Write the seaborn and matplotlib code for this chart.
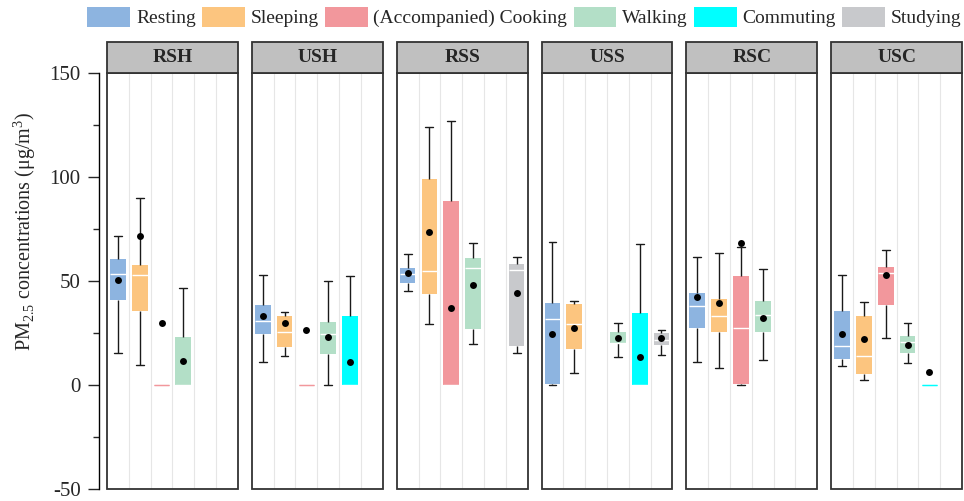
# boxplots of PM2.5 by activity for each household type

import numpy as np
import pandas as pd
import seaborn as sns
import matplotlib.pyplot as plt
from matplotlib.patches import Patch, Rectangle

sites = ['RSH', 'USH', 'RSS', 'USS', 'RSC', 'USC']
activities = ['Resting', 'Sleeping', '(Accompanied) Cooking', 'Walking', 'Commuting', 'Studying']
colors = ['#8db4e0', '#fcc57f', '#f2979c', '#b3dfc7', '#00ffff', '#c8c9cc']

# box statistics: whisker low, Q1, median, Q3, whisker high, mean
box_site = ['RSH'] * 4 + ['USH'] * 5 + ['RSS'] * 5 + ['USS'] * 5 + ['RSC'] * 4 + ['USC'] * 5
box_act = ['Resting', 'Sleeping', '(Accompanied) Cooking', 'Walking',
           'Resting', 'Sleeping', '(Accompanied) Cooking', 'Walking', 'Commuting',
           'Resting', 'Sleeping', '(Accompanied) Cooking', 'Walking', 'Studying',
           'Resting', 'Sleeping', 'Walking', 'Commuting', 'Studying',
           'Resting', 'Sleeping', '(Accompanied) Cooking', 'Walking',
           'Resting', 'Sleeping', '(Accompanied) Cooking', 'Walking', 'Commuting']
whisk_lo = [15.5, 9.7, 0, 0,
            11.3, 14.1, 0, 0, 0,
            45.3, 29.2, 0, 19.7, 15.5,
            0, 5.7, 13.6, 0, 14.4,
            11.1, 8.4, 0, 12.2,
            9.0, 2.5, 22.7, 10.5, 0]
q1 = [40.9, 35.4, 0, 0,
      24.3, 18.2, 0, 15.1, 0,
      49.0, 43.8, 0, 27.0, 19.0,
      0.3, 17.1, 20.0, 0, 19.2,
      27.3, 25.7, 0.3, 25.4,
      12.4, 5.4, 38.5, 15.5, 0]
median = [53.6, 52.8, 0, 0,
          30.6, 25.7, 0, 24.7, 0,
          53.6, 54.9, 0, 56.3, 55.3,
          31.6, 29.3, 20.3, 0, 21.6,
          37.9, 33.0, 27.3, 33.5,
          18.9, 14.0, 54.1, 20.5, 0]
q3 = [60.4, 57.9, 0, 23.0,
      38.7, 33.3, 0, 30.1, 33.0,
      56.4, 98.9, 88.6, 61.2, 58.0,
      39.6, 39.0, 25.5, 34.7, 25.1,
      44.1, 41.4, 52.2, 40.6,
      35.4, 33.0, 56.6, 23.5, 0]
whisk_hi = [71.8, 89.9, 0, 46.6,
            53.1, 35.0, 0, 50.1, 52.3,
            63.1, 124.1, 126.8, 68.5, 61.4,
            69.0, 40.4, 30.0, 68.0, 26.6,
            61.4, 63.6, 66.3, 56.0,
            52.8, 40.1, 65.0, 29.8, 0]
means = [50.6, 71.8, 30.0, 11.6,
         33.0, 29.6, 26.6, 23.0, 11.3,
         53.8, 73.6, 37.1, 48.2, 44.4,
         24.6, 27.3, 22.7, 13.5, 22.7,
         42.2, 39.3, 68.5, 32.3,
         24.6, 22.0, 53.0, 19.3, 6.3]


def build_frames():
    rows = []
    for i in range(len(box_site)):
        for v in (whisk_lo[i], q1[i], median[i], q3[i], whisk_hi[i]):
            rows.append({'site': box_site[i], 'activity': box_act[i], 'value': v})
    box_df = pd.DataFrame(rows)
    mean_df = pd.DataFrame({'site': box_site, 'activity': box_act, 'mean': means})
    return box_df, mean_df


def tidy_boxes(ax):
    # hide whiskers of zero length and flatten degenerate boxes
    for c in ax.containers:
        if not hasattr(c, 'whiskers'):
            continue
        for w, cap in zip(c.whiskers, c.caps):
            y = w.get_ydata()
            if np.isclose(y[0], y[1]):
                w.set_visible(False)
                cap.set_visible(False)
        for box, med in zip(c.boxes, c.medians):
            ys = box.get_path().vertices[:, 1]
            if np.ptp(ys) == 0:
                fc = box.get_facecolor()
                box.set_edgecolor(fc)
                box.set_linewidth(0.8)
                med.set_color(fc)


def main():
    sns.set_style('white')
    plt.rcParams['font.family'] = ['Liberation Serif', 'DejaVu Serif']
    plt.rcParams['mathtext.fontset'] = 'custom'
    plt.rcParams['mathtext.rm'] = 'Liberation Serif'
    plt.rcParams['axes.unicode_minus'] = False

    box_df, mean_df = build_frames()
    palette = dict(zip(activities, colors))

    fig, axes = plt.subplots(1, 6, figsize=(9.64, 5.01), dpi=100, sharey=True)
    fig.subplots_adjust(left=0.111, right=0.998, top=0.854, bottom=0.024, wspace=0.107)

    frame_c = '#333333'
    strip_h = 32 / 421
    for ax, site in zip(axes, sites):
        for x in np.arange(0.5, 5.5, 1):
            ax.axvline(x, color='#e6e6e6', lw=0.8, zorder=0)
        sub = box_df[box_df['site'] == site]
        sns.boxplot(data=sub, x='activity', y='value', hue='activity', order=activities,
                    hue_order=activities, palette=palette, saturation=1, width=0.72,
                    whis=(0, 100), fliersize=0, linecolor='#1a1a1a', linewidth=1.0,
                    boxprops=dict(edgecolor='none'), medianprops=dict(color='white', linewidth=1.0),
                    legend=False, ax=ax)
        msub = mean_df[mean_df['site'] == site]
        sns.stripplot(data=msub, x='activity', y='mean', order=activities, color='black',
                      jitter=False, size=5, ax=ax, zorder=5)
        tidy_boxes(ax)

        ax.set_xlim(-0.5, 5.5)
        ax.set_ylim(-50, 150)
        ax.set_xlabel('')
        ax.set_ylabel('')
        ax.set_xticks([])
        for s in ax.spines.values():
            s.set_visible(False)
        ax.add_patch(Rectangle((0, 0), 1, 1, transform=ax.transAxes, fill=False,
                               ec=frame_c, lw=1.3, clip_on=False, zorder=10))
        ax.add_patch(Rectangle((0, 1), 1, strip_h, transform=ax.transAxes, fc='#c0c0c0',
                               ec=frame_c, lw=1.3, clip_on=False, zorder=10))
        ax.text(0.5, 1 + strip_h / 2, site, transform=ax.transAxes, ha='center', va='center',
                fontsize=14, fontweight='bold', zorder=11)

    ax0 = axes[0]
    ax0.spines['left'].set_visible(True)
    ax0.spines['left'].set_color('black')
    ax0.spines['left'].set_linewidth(1.0)
    ax0.spines['left'].set_position(('outward', 6))
    ax0.set_yticks([-50, 0, 50, 100, 150])
    ax0.set_yticks(np.arange(-25, 150, 50), minor=True)
    ax0.tick_params(axis='y', which='major', left=True, length=8, width=1, pad=5, labelsize=15)
    ax0.tick_params(axis='y', which='minor', left=True, length=4, width=1)
    for ax in axes[1:]:
        ax.tick_params(axis='y', which='both', left=False, labelleft=False)
    ax0.set_ylabel('PM$_\\mathregular{2.5}$ concentrations (μg/m$^\\mathregular{3}$)', fontsize=14.5)
    ax0.yaxis.set_label_coords(-0.53, 0.62)

    handles = [Patch(fc=c, ec='none') for c in colors]
    fig.legend(handles, activities, loc='center', bbox_to_anchor=(0.544, 0.966), ncol=6,
               frameon=False, fontsize=14, handlelength=2.2, handleheight=1.2,
               handletextpad=0.3, columnspacing=0.32, borderaxespad=0)

    fig.savefig('out.png', dpi=100)


if __name__ == '__main__':
    main()
